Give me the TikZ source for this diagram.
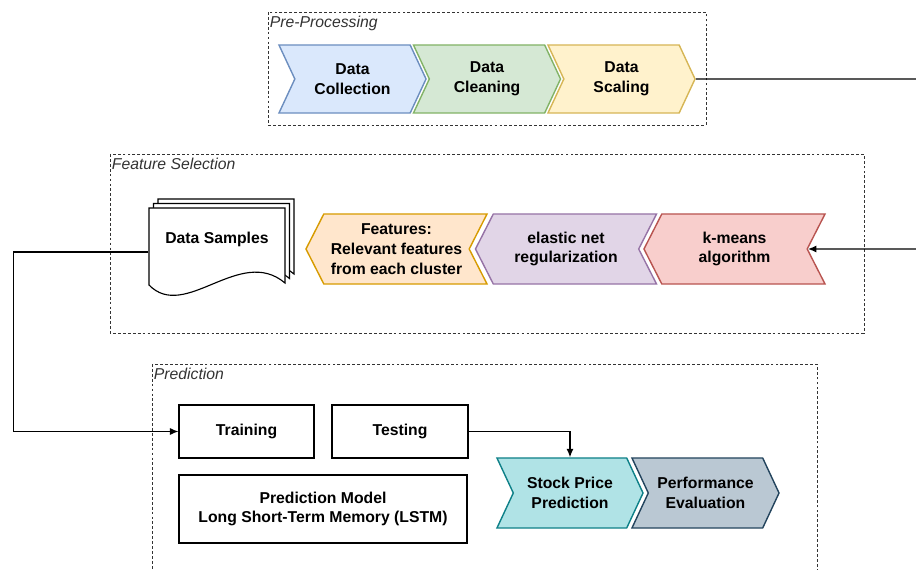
\documentclass[tikz,border=0pt]{standalone}
\usepackage{fontspec}
\setmainfont{Liberation Sans}
\usetikzlibrary{shapes.symbols,arrows.meta}
\definecolor{BlueFill}{HTML}{DAE8FC}
\definecolor{BlueLine}{HTML}{6C8EBF}
\definecolor{GreenFill}{HTML}{D5E8D4}
\definecolor{GreenLine}{HTML}{82B366}
\definecolor{YellowFill}{HTML}{FFF2CC}
\definecolor{YellowLine}{HTML}{D6B656}
\definecolor{OrangeFill}{HTML}{FFE6CC}
\definecolor{OrangeLine}{HTML}{D79B00}
\definecolor{PurpleFill}{HTML}{E1D5E7}
\definecolor{PurpleLine}{HTML}{9673A6}
\definecolor{RedFill}{HTML}{F8CECC}
\definecolor{RedLine}{HTML}{B85450}
\definecolor{TealFill}{HTML}{B0E3E6}
\definecolor{TealLine}{HTML}{0E8088}
\definecolor{SlateFill}{HTML}{BAC8D3}
\definecolor{SlateLine}{HTML}{23445D}
\definecolor{GroupText}{HTML}{333333}

\begin{document}
\begin{tikzpicture}[x=0.025cm,y=-0.025cm,line width=0.7pt,
  every node/.style={font=\fontsize{11.2}{14}\selectfont\bfseries,align=center},
  group/.style={draw=GroupText,dash pattern=on 2pt off 1.5pt,line width=0.6pt},
  grouplabel/.style={font=\fontsize{11.2}{13}\selectfont\itshape,text=GroupText,anchor=north west,inner sep=1pt},
  stepbox/.style={signal,signal from=west,signal to=east,signal pointer angle=130,
    minimum width=3.675cm,minimum height=1.7cm,inner sep=0pt,line width=1pt},
  backstep/.style={signal,signal from=east,signal to=west,signal pointer angle=126,
    minimum width=4.525cm,minimum height=1.75cm,inner sep=0pt,line width=1pt},
  plainbox/.style={draw,minimum height=1.325cm,inner sep=0pt,line width=0.8pt},
  link/.style={draw=black,line width=0.8pt}]
\useasboundingbox (0,0) rectangle (916,570);

\draw[group] (268,12) rectangle (706,125);
\node[grouplabel] (prelabel) at (268,14) {Pre-Processing};
\draw[group] (110,154) rectangle (864,333);
\node[grouplabel] (featlabel) at (110,156) {Feature Selection};
\draw[group] (152,364) rectangle (817,620);
\node[grouplabel] (predlabel) at (152,366) {Prediction};

\node[stepbox,draw=BlueLine,fill=BlueFill] (collect) at (352.5,79) {Data\\Collection};
\node[stepbox,draw=GreenLine,fill=GreenFill] (clean) at (487,79) {Data\\Cleaning};
\node[stepbox,draw=YellowLine,fill=YellowFill] (scale) at (621.5,79) {Data\\Scaling};

\foreach \d in {9,4.5,0}
  \draw[line width=0.8pt,fill=white,shift={(\d,-\d)}] (149,208) -- (285,208) -- (285,283)
    .. controls (240,245) and (185,322) .. (149,285) -- cycle;
\node[minimum width=3.4cm,minimum height=2.2cm,inner sep=0pt] (samples) at (217,252) {};
\node (samplestext) at (217,239) {Data Samples};

\node[backstep,draw=OrangeLine,fill=OrangeFill] (features) at (396.5,249) {Features:\\Relevant features\\from each cluster};
\node[backstep,draw=PurpleLine,fill=PurpleFill] (elastic) at (566,249) {elastic net\\regularization};
\node[backstep,draw=RedLine,fill=RedFill] (kmeans) at (734.5,249) {k-means\\algorithm};

\node[plainbox,minimum width=3.375cm] (training) at (246.5,431.5) {Training};
\node[plainbox,minimum width=3.4cm] (testing) at (400,431.5) {Testing};
\node[plainbox,minimum width=7.2cm,minimum height=1.7cm] (lstm) at (323,509) {Prediction Model\\Long Short-Term Memory (LSTM)};

\node[stepbox,draw=TealLine,fill=TealFill,minimum width=3.65cm,minimum height=1.75cm] (stock) at (570,493) {Stock Price\\Prediction};
\node[stepbox,draw=SlateLine,fill=SlateFill,minimum width=3.675cm,minimum height=1.75cm] (perf) at (705.5,493) {Performance\\Evaluation};

\coordinate (outA) at (916,79);
\coordinate (outB) at (916,249);
\draw[link] (scale) -- (outA);
\draw[link,-{Latex[length=6pt,width=5pt]}] (outB) -- (kmeans);
\draw[link,-{Latex[length=6pt,width=5pt]}] (samples.west) -- ++(-135,0) |- (training.west);
\draw[link,-{Latex[length=6pt,width=5pt]}] (testing.east) -| (stock.north);
\end{tikzpicture}
\end{document}
